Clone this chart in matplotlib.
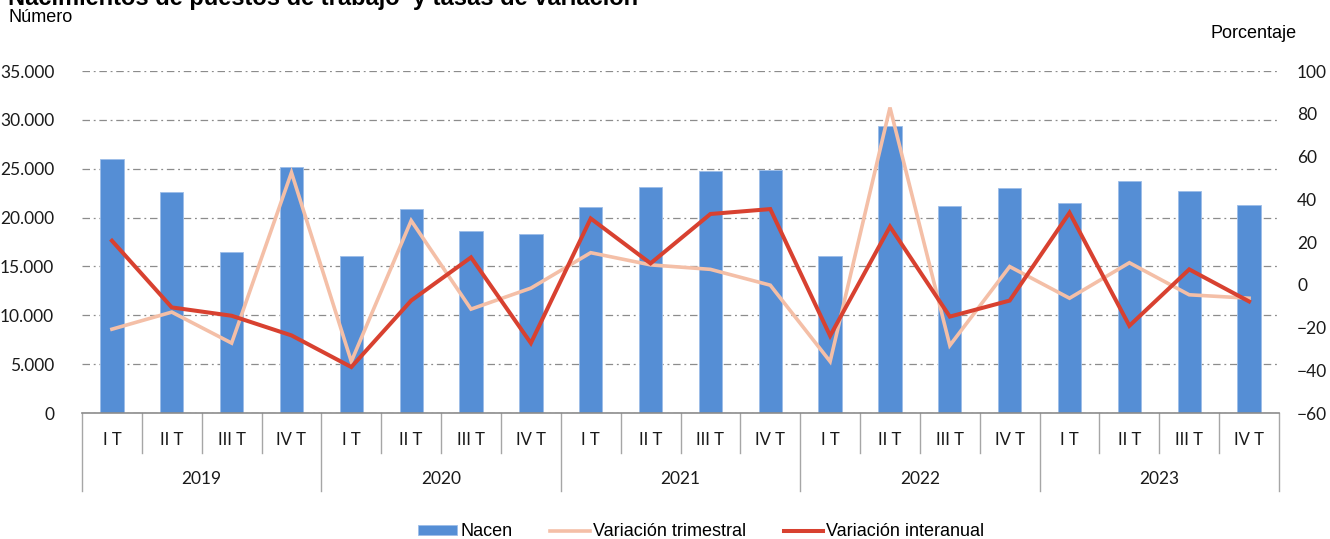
import matplotlib
matplotlib.use("Agg")
import matplotlib.pyplot as plt
import matplotlib.transforms as mtransforms
from matplotlib.ticker import FuncFormatter

# Datos
years = ["2019", "2020", "2021", "2022", "2023"]
quarters = ["I T", "II T", "III T", "IV T"]
nacen = [26000, 22650, 16450, 25130,
         16040, 20900, 18590, 18280,
         21080, 23120, 24790, 24820,
         16040, 29380, 21140, 23020,
         21520, 23770, 22710, 21250]
var_trimestral = [-20.8, -12.8, -27.3, 52.5,
                  -35.9, 30.0, -11.4, -1.6,
                  15.0, 9.3, 7.2, -0.2,
                  -35.9, 82.9, -28.4, 8.5,
                  -6.3, 10.3, -4.7, -6.3]
var_interanual = [20.6, -10.6, -14.5, -23.7,
                  -38.5, -7.4, 12.8, -27.3,
                  31.0, 10.0, 33.1, 35.4,
                  -23.9, 27.2, -14.9, -7.4,
                  33.7, -19.2, 7.2, -7.8]

C_BAR = "#558ed5"
C_TRIM = "#f4bfa7"
C_INTER = "#d84130"
C_GRID = "#8c8c8c"
TICK_FONT = "Lato"
TEXT_FONT = "Liberation Sans"

fig = plt.figure(figsize=(13.3, 5.39), dpi=100)
ax = fig.add_axes([82 / 1330, 126 / 539, (1279 - 82) / 1330, 342 / 539])
ax2 = ax.twinx()

n = len(nacen)
xs = list(range(n))
ax.bar(xs, nacen, width=0.39, color=C_BAR, edgecolor="#9dbde8", linewidth=0.6,
       label="Nacen", zorder=2)
ax2.plot(xs, var_trimestral, color=C_TRIM, lw=2.6, label="Variación trimestral",
         solid_joinstyle="miter", zorder=3)
ax2.plot(xs, var_interanual, color=C_INTER, lw=2.9, label="Variación interanual",
         solid_joinstyle="miter", zorder=4)

ax.set_xlim(-0.5, n - 0.5)
ax.set_ylim(0, 35000)
ax.set_yticks(range(0, 35001, 5000))
ax.yaxis.set_major_formatter(FuncFormatter(lambda v, p: f"{int(v):,}".replace(",", ".")))
ax2.set_ylim(-60, 100)
ax2.set_yticks(range(-60, 101, 20))

ax.set_axisbelow(True)
ax.grid(axis="y", color=C_GRID, linestyle=(0, (6, 3, 1.5, 3)), linewidth=0.9)
ax.set_xticks([])
for a in (ax, ax2):
    for s in ("top", "left", "right", "bottom"):
        a.spines[s].set_visible(False)
ax.tick_params(axis="y", length=0, pad=20, labelsize=12.5, labelcolor="#1a1a1a")
ax2.tick_params(axis="y", length=0, pad=13, labelsize=12.5, labelcolor="#1a1a1a")
for lab in ax.get_yticklabels() + ax2.get_yticklabels():
    lab.set_fontfamily(TICK_FONT)

# eje de categorías con tabla
trans = mtransforms.blended_transform_factory(ax.transData, ax.transAxes)
ax.plot([-0.5, n - 0.5], [0, 0], transform=trans, color="#8c8c8c", lw=1.2,
        clip_on=False, zorder=5)
q_bottom = -39.7 / 342
y_bottom = -77.7 / 342
for i in range(n + 1):
    bottom = y_bottom if i % 4 == 0 else q_bottom
    ax.plot([i - 0.5, i - 0.5], [0, bottom], transform=trans, color="#a6a6a6",
            lw=1.0, clip_on=False)
for i in range(n):
    ax.text(i, -27 / 342, quarters[i % 4], transform=trans, ha="center", va="center",
            fontsize=12, family=TICK_FONT, color="#1a1a1a")
for j, yr in enumerate(years):
    ax.text(j * 4 + 1.5, -66 / 342, yr, transform=trans, ha="center", va="center",
            fontsize=12.5, family=TICK_FONT, color="#1a1a1a")

# textos
fig.text(8 / 1330, 1 - 4.5 / 539, "Nacimientos de puestos de trabajo  y tasas de variación",
         ha="left", va="baseline", fontsize=17, fontweight="bold", family=TEXT_FONT)
fig.text(8 / 1330, 1 - 18 / 539, "Número", ha="left", va="center", fontsize=13,
         family=TEXT_FONT)
fig.text(1297 / 1330, 1 - 33 / 539, "Porcentaje", ha="right", va="center", fontsize=13,
         family=TEXT_FONT)

h1, l1 = ax.get_legend_handles_labels()
h2, l2 = ax2.get_legend_handles_labels()
fig.legend(h1 + h2, l1 + l2, loc="center", bbox_to_anchor=(701 / 1330, 1 - 532 / 539),
           ncol=3, frameon=False, prop={"family": TEXT_FONT, "size": 13},
           handlelength=2.2, handleheight=0.5, handletextpad=0.15, columnspacing=2.1)

fig.savefig("out.png", dpi=100)
